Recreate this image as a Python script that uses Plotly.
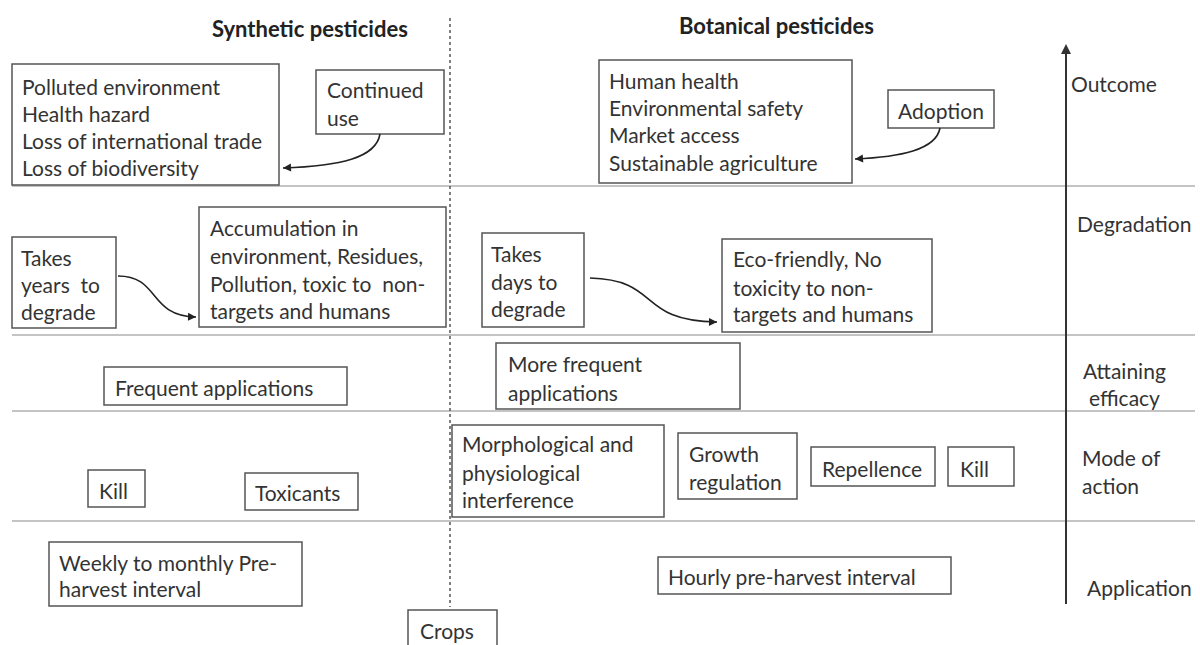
import plotly.graph_objects as go

W, H = 1200, 645
FONT = "Lato"
TEXT_COLOR = "#333333"
BOX_COLOR = "#555555"
RULE_COLOR = "#b0b0b0"
FS = 21

# ---- text content ----
column_titles = ["Synthetic pesticides", "Botanical pesticides"]
stage_labels = [["Outcome"], ["Degradation"], ["Attaining", "efficacy"], ["Mode of", "action"], ["Application"]]

box_texts = [
    ["Polluted environment", "Health hazard", "Loss of international trade", "Loss of biodiversity"],
    ["Continued", "use"],
    ["Human health", "Environmental safety", "Market access", "Sustainable agriculture"],
    ["Adoption"],
    ["Takes", "years  to", "degrade"],
    ["Accumulation in", "environment, Residues,", "Pollution, toxic to  non-", "targets and humans"],
    ["Takes", "days to", "degrade"],
    ["Eco-friendly, No", "toxicity to non-", "targets and humans"],
    ["Frequent applications"],
    ["More frequent", "applications"],
    ["Kill"],
    ["Toxicants"],
    ["Morphological and", "physiological", "interference"],
    ["Growth", "regulation"],
    ["Repellence"],
    ["Kill"],
    ["Weekly to monthly Pre-", "harvest interval"],
    ["Hourly pre-harvest interval"],
    ["Crops"],
]

# ---- layout geometry (pixel coordinates, y downward) ----
box_rects = [
    (12, 64, 279, 185), (316, 70, 444, 134), (599, 60, 852, 183), (888, 90, 994, 128),
    (12, 237, 116, 328), (199, 207, 446, 327), (482, 233, 584, 327), (722, 239, 932, 332),
    (104, 367, 347, 405), (496, 343, 740, 409),
    (88, 470, 145, 507), (245, 473, 358, 510), (452, 425, 664, 517), (678, 433, 797, 499),
    (811, 447, 935, 486), (948, 447, 1014, 486),
    (49, 542, 302, 606), (658, 557, 951, 594), (408, 610, 497, 652),
]
text_x = [20, 325, 607, 896, 19, 208, 489, 731, 113, 506, 97, 253, 460, 687, 820, 958, 57, 666, 418]
text_y = [[86, 113, 140, 167], [89, 117], [80, 107, 134, 162], [110],
          [257, 284, 311], [227, 255, 283, 310], [253, 281, 308], [258, 287, 313],
          [387], [363, 392], [490], [492], [443, 472, 499], [453, 481], [468], [468],
          [562, 588], [576], [630]]

rule_y = [186, 335, 411, 521]
stage_pos = [(1069, [83], "left"), (1075, [223], "left"), (1124, [370, 397], "center"),
             (1080, [457, 485], "left"), (1085, [587], "left")]
title_pos = [(310, 28), (776, 25)]

curves = [
    ("M 380 134 C 376 158, 340 166, 283 168", (283, 168), (291, 167.6)),
    ("M 940 128 C 936 150, 900 157, 855 159", (855, 159), (863, 158.4)),
    ("M 118 276 C 160 276, 148 316, 196 317", (196, 317), (188, 316.8)),
    ("M 590 278 C 662 280, 636 321, 717 322", (717, 322), (709, 321.9)),
]

fig = go.Figure()
shapes = []
annotations = []

for y in rule_y:
    shapes.append(dict(type="line", x0=12, x1=1195, y0=y, y1=y,
                       line=dict(color=RULE_COLOR, width=1.5), layer="below"))

shapes.append(dict(type="line", x0=450, x1=450, y0=18, y1=607,
                   line=dict(color="#555555", width=1.5, dash="dot")))

for (x0, y0, x1, y1) in box_rects:
    shapes.append(dict(type="rect", x0=x0, y0=y0, x1=x1, y1=y1,
                       line=dict(color=BOX_COLOR, width=1.5), fillcolor="white"))

for lines, tx, tys in zip(box_texts, text_x, text_y):
    for line, ty in zip(lines, tys):
        annotations.append(dict(x=tx, y=ty, text=line, showarrow=False, xanchor="left",
                                yanchor="middle", font=dict(family=FONT, size=FS, color=TEXT_COLOR)))

for title, (tx, ty) in zip(column_titles, title_pos):
    annotations.append(dict(x=tx, y=ty, text="<b>" + title + "</b>", showarrow=False,
                            xanchor="center", yanchor="middle",
                            font=dict(family=FONT, size=22, color="#222222")))

for lines, (sx, sys_, anch) in zip(stage_labels, stage_pos):
    for line, sy in zip(lines, sys_):
        annotations.append(dict(x=sx, y=sy, text=line, showarrow=False, xanchor=anch,
                                yanchor="middle", font=dict(family=FONT, size=FS, color=TEXT_COLOR)))

# vertical upward arrow
shapes.append(dict(type="line", x0=1066, x1=1066, y0=604, y1=50,
                   line=dict(color="#333333", width=2)))
annotations.append(dict(x=1066, y=44, ax=1066, ay=60, axref="x", ayref="y", xref="x", yref="y",
                        text="", showarrow=True, arrowhead=2, arrowsize=1, arrowwidth=2,
                        arrowcolor="#333333", standoff=0))

for path, (ex, ey), (bx, by) in curves:
    shapes.append(dict(type="path", path=path, line=dict(color="#222222", width=1.6)))
    annotations.append(dict(x=ex, y=ey, ax=bx, ay=by, axref="x", ayref="y", xref="x", yref="y",
                            text="", showarrow=True, arrowhead=2, arrowsize=1, arrowwidth=1.6,
                            arrowcolor="#222222", standoff=0))

fig.update_layout(
    width=W, height=H, margin=dict(l=0, r=0, t=0, b=0),
    paper_bgcolor="white", plot_bgcolor="white",
    xaxis=dict(range=[0, W], visible=False, fixedrange=True),
    yaxis=dict(range=[H, 0], visible=False, fixedrange=True),
    shapes=shapes, annotations=annotations, showlegend=False,
)

fig.write_html("out.html", config={"displayModeBar": False},
               post_script="document.body.style.margin='0';document.body.style.overflow='hidden';")
